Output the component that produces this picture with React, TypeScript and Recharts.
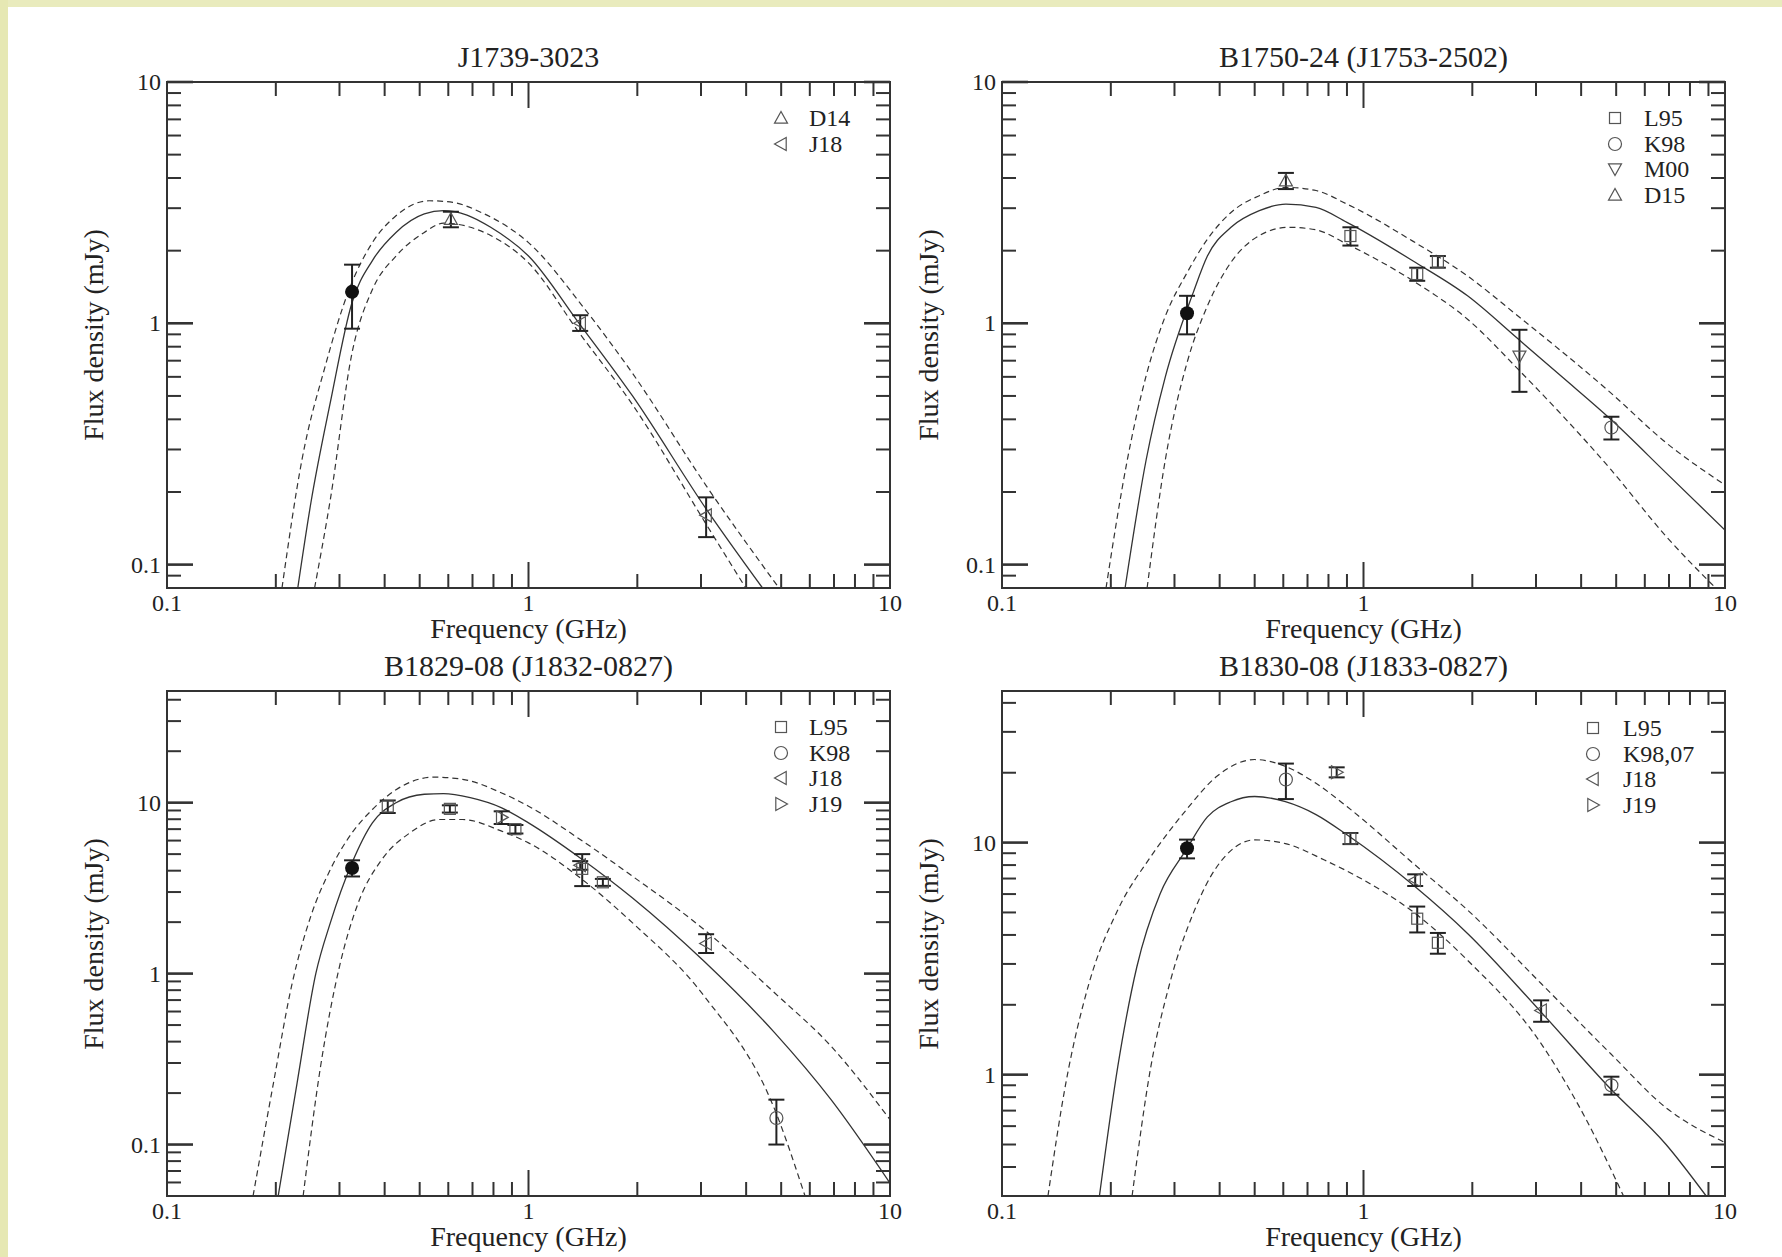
import React from 'react';
import { ComposedChart, Line, Scatter, XAxis, YAxis, ErrorBar, ReferenceArea } from 'recharts';

const FONT = '"Liberation Serif", "Times New Roman", serif';
const INK = '#222';
const CURVE = '#333';

// axis ticks (log axes, minor ticks at 2..9 of each decade)
const xTicks = [0.1, 0.2, 0.3, 0.4, 0.5, 0.6, 0.7, 0.8, 0.9, 1, 2, 3, 4, 5, 6, 7, 8, 9, 10];
const xTickLabels = [0.1, 1, 10];
const yTicksTop = [0.09, 0.1, 0.2, 0.3, 0.4, 0.5, 0.6, 0.7, 0.8, 0.9, 1, 2, 3, 4, 5, 6, 7, 8, 9, 10];
const yTicksBL = [0.06, 0.07, 0.08, 0.09, 0.1, 0.2, 0.3, 0.4, 0.5, 0.6, 0.7, 0.8, 0.9, 1, 2, 3, 4, 5, 6, 7, 8, 9, 10, 20, 30, 40];
const yTicksBR = [0.4, 0.5, 0.6, 0.7, 0.8, 0.9, 1, 2, 3, 4, 5, 6, 7, 8, 9, 10, 20, 30, 40];
const yTickLabelsTop = [0.1, 1, 10];
const yTickLabelsBR = [1, 10];

// ---- J1739-3023 ----
const tlFit = [
  { f: 0.23, s: 0.08 }, { f: 0.25, s: 0.18 }, { f: 0.283, s: 0.47 }, { f: 0.325, s: 1.22 },
  { f: 0.37, s: 1.82 }, { f: 0.43, s: 2.38 }, { f: 0.515, s: 2.84 }, { f: 0.582, s: 2.93 },
  { f: 0.676, s: 2.81 }, { f: 0.786, s: 2.5 }, { f: 1.0, s: 1.9 }, { f: 1.38, s: 1.0 },
  { f: 1.94, s: 0.5 }, { f: 3.11, s: 0.169 }, { f: 4.44, s: 0.08 },
];
const tlUpper = [
  { f: 0.208, s: 0.08 }, { f: 0.236, s: 0.27 }, { f: 0.274, s: 0.665 }, { f: 0.319, s: 1.38 },
  { f: 0.37, s: 2.16 }, { f: 0.43, s: 2.79 }, { f: 0.531, s: 3.22 }, { f: 0.618, s: 3.17 },
  { f: 0.74, s: 2.88 }, { f: 1.0, s: 2.16 }, { f: 1.435, s: 1.14 }, { f: 1.94, s: 0.62 },
  { f: 3.11, s: 0.211 }, { f: 4.93, s: 0.08 },
];
const tlLower = [
  { f: 0.256, s: 0.08 }, { f: 0.283, s: 0.186 }, { f: 0.325, s: 0.755 }, { f: 0.37, s: 1.38 },
  { f: 0.43, s: 1.9 }, { f: 0.515, s: 2.38 }, { f: 0.582, s: 2.6 }, { f: 0.786, s: 2.31 },
  { f: 1.0, s: 1.78 }, { f: 1.38, s: 0.915 }, { f: 1.94, s: 0.46 }, { f: 3.11, s: 0.146 },
  { f: 3.99, s: 0.08 },
];
const tlOurs = [{ f: 0.325, s: 1.35, e: [0.4, 0.4] }];
const tlD14 = [{ f: 0.61, s: 2.7, e: [0.2, 0.2] }];
const tlJ18 = [{ f: 1.39, s: 1.0, e: [0.07, 0.08] }, { f: 3.1, s: 0.16, e: [0.03, 0.03] }];

// ---- B1750-24 ----
const trFit = [
  { f: 0.219, s: 0.08 }, { f: 0.2505, s: 0.272 }, { f: 0.283, s: 0.6 }, { f: 0.338, s: 1.34 },
  { f: 0.37, s: 1.9 }, { f: 0.43, s: 2.5 }, { f: 0.515, s: 2.93 }, { f: 0.61, s: 3.12 },
  { f: 0.739, s: 3.02 }, { f: 0.9, s: 2.62 }, { f: 1.39, s: 1.79 }, { f: 1.94, s: 1.3 },
  { f: 2.68, s: 0.86 }, { f: 3.54, s: 0.6 }, { f: 4.83, s: 0.4 }, { f: 6.87, s: 0.24 },
  { f: 10, s: 0.139 },
];
const trUpper = [
  { f: 0.194, s: 0.08 }, { f: 0.222, s: 0.27 }, { f: 0.25, s: 0.6 }, { f: 0.283, s: 1.07 },
  { f: 0.325, s: 1.62 }, { f: 0.37, s: 2.23 }, { f: 0.43, s: 2.88 }, { f: 0.515, s: 3.38 },
  { f: 0.61, s: 3.66 }, { f: 0.739, s: 3.55 }, { f: 0.9, s: 3.12 }, { f: 1.39, s: 2.16 },
  { f: 1.94, s: 1.57 }, { f: 2.68, s: 1.07 }, { f: 4.83, s: 0.515 }, { f: 6.87, s: 0.32 },
  { f: 10, s: 0.214 },
];
const trLower = [
  { f: 0.252, s: 0.08 }, { f: 0.283, s: 0.272 }, { f: 0.325, s: 0.687 }, { f: 0.37, s: 1.18 },
  { f: 0.43, s: 1.79 }, { f: 0.515, s: 2.31 }, { f: 0.62, s: 2.5 }, { f: 0.739, s: 2.44 },
  { f: 0.9, s: 2.13 }, { f: 1.39, s: 1.48 }, { f: 1.94, s: 1.04 }, { f: 2.68, s: 0.644 },
  { f: 4.83, s: 0.248 }, { f: 6.87, s: 0.131 }, { f: 9.42, s: 0.08 },
];
const trOurs = [{ f: 0.325, s: 1.1, e: [0.2, 0.2] }];
const trL95 = [
  { f: 0.92, s: 2.3, e: [0.2, 0.2] },
  { f: 1.408, s: 1.6, e: [0.1, 0.1] },
  { f: 1.606, s: 1.8, e: [0.1, 0.1] },
];
const trK98 = [{ f: 4.85, s: 0.37, e: [0.04, 0.04] }];
const trM00 = [{ f: 2.7, s: 0.73, e: [0.21, 0.21] }];
const trD15 = [{ f: 0.61, s: 3.9, e: [0.3, 0.3] }];

// ---- B1829-08 ----
const blFit = [
  { f: 0.203, s: 0.05 }, { f: 0.229, s: 0.229 }, { f: 0.258, s: 1.0 }, { f: 0.283, s: 1.98 },
  { f: 0.325, s: 4.45 }, { f: 0.37, s: 7.62 }, { f: 0.43, s: 9.98 }, { f: 0.515, s: 11.2 },
  { f: 0.582, s: 11.3 }, { f: 0.69, s: 10.7 }, { f: 0.843, s: 9.33 }, { f: 1.0, s: 7.62 },
  { f: 1.39, s: 4.75 }, { f: 1.94, s: 2.77 }, { f: 3.06, s: 1.18 }, { f: 4.8, s: 0.45 },
  { f: 6.87, s: 0.183 }, { f: 10, s: 0.0595 },
];
const blUpper = [
  { f: 0.173, s: 0.05 }, { f: 0.197, s: 0.229 }, { f: 0.222, s: 0.88 }, { f: 0.25, s: 2.17 },
  { f: 0.283, s: 4.06 }, { f: 0.325, s: 6.66 }, { f: 0.37, s: 9.12 }, { f: 0.43, s: 11.9 },
  { f: 0.547, s: 14.1 }, { f: 0.657, s: 13.7 }, { f: 0.843, s: 11.4 }, { f: 1.0, s: 9.54 },
  { f: 1.39, s: 6.09 }, { f: 1.94, s: 3.71 }, { f: 3.06, s: 1.81 }, { f: 4.8, s: 0.77 },
  { f: 6.87, s: 0.376 }, { f: 10, s: 0.14 },
];
const blLower = [
  { f: 0.238, s: 0.05 }, { f: 0.266, s: 0.287 }, { f: 0.3, s: 1.1 }, { f: 0.338, s: 2.59 },
  { f: 0.393, s: 4.65 }, { f: 0.47, s: 6.66 }, { f: 0.565, s: 7.97 }, { f: 0.657, s: 7.97 },
  { f: 0.843, s: 6.81 }, { f: 1.0, s: 5.82 }, { f: 1.39, s: 3.63 }, { f: 1.94, s: 1.98 },
  { f: 3.06, s: 0.74 }, { f: 4.8, s: 0.16 }, { f: 5.82, s: 0.05 },
];
const blOurs = [{ f: 0.325, s: 4.15, e: [0.45, 0.45] }];
const blL95 = [
  { f: 0.408, s: 9.5, e: [0.8, 0.8] },
  { f: 0.606, s: 9.2, e: [0.45, 0.45] },
  { f: 0.92, s: 7.0, e: [0.4, 0.4] },
  { f: 1.408, s: 4.1, e: [0.85, 0.9] },
  { f: 1.606, s: 3.42, e: [0.16, 0.16] },
];
const blK98 = [{ f: 4.85, s: 0.143, e: [0.043, 0.04] }];
const blJ18 = [{ f: 1.39, s: 4.3, e: [0.25, 0.25] }, { f: 3.1, s: 1.5, e: [0.18, 0.2] }];
const blJ19 = [{ f: 0.843, s: 8.2, e: [0.7, 0.7] }];

// ---- B1830-08 ----
const brFit = [
  { f: 0.186, s: 0.3 }, { f: 0.209, s: 1.08 }, { f: 0.236, s: 2.91 }, { f: 0.274, s: 6.04 },
  { f: 0.323, s: 9.3 }, { f: 0.37, s: 12.9 }, { f: 0.43, s: 15.0 }, { f: 0.5, s: 15.8 },
  { f: 0.608, s: 15.0 }, { f: 0.739, s: 13.2 }, { f: 0.9, s: 10.8 }, { f: 1.39, s: 6.45 },
  { f: 1.94, s: 4.06 }, { f: 3.1, s: 1.86 }, { f: 4.83, s: 0.867 }, { f: 6.87, s: 0.5 },
  { f: 8.87, s: 0.3 },
];
const brUpper = [
  { f: 0.134, s: 0.3 }, { f: 0.15, s: 0.91 }, { f: 0.174, s: 2.47 }, { f: 0.209, s: 5.12 },
  { f: 0.258, s: 8.7 }, { f: 0.323, s: 13.8 }, { f: 0.393, s: 19.3 }, { f: 0.5, s: 22.8 },
  { f: 0.608, s: 21.3 }, { f: 0.739, s: 18.0 }, { f: 0.9, s: 14.3 }, { f: 1.39, s: 8.0 },
  { f: 1.94, s: 5.12 }, { f: 3.1, s: 2.47 }, { f: 4.83, s: 1.23 }, { f: 6.87, s: 0.72 },
  { f: 10, s: 0.51 },
];
const brLower = [
  { f: 0.229, s: 0.3 }, { f: 0.258, s: 1.08 }, { f: 0.291, s: 2.47 }, { f: 0.338, s: 4.95 },
  { f: 0.393, s: 7.87 }, { f: 0.5, s: 10.27 }, { f: 0.608, s: 9.9 }, { f: 0.78, s: 8.41 },
  { f: 1.0, s: 6.9 }, { f: 1.39, s: 4.95 }, { f: 1.94, s: 3.11 }, { f: 3.1, s: 1.36 },
  { f: 4.11, s: 0.65 }, { f: 5.24, s: 0.3 },
];
const brOurs = [{ f: 0.325, s: 9.45, e: [0.9, 0.85] }];
const brL95 = [
  { f: 0.92, s: 10.4, e: [0.55, 0.6] },
  { f: 1.408, s: 4.7, e: [0.6, 0.6] },
  { f: 1.606, s: 3.7, e: [0.38, 0.38] },
];
const brK98 = [{ f: 0.61, s: 18.7, e: [3.3, 3.2] }, { f: 4.85, s: 0.9, e: [0.08, 0.08] }];
const brJ18 = [{ f: 1.39, s: 6.9, e: [0.4, 0.4] }, { f: 3.1, s: 1.89, e: [0.2, 0.2] }];
const brJ19 = [{ f: 0.843, s: 20.1, e: [1, 1] }];

type Kind = 'filled' | 'square' | 'circle' | 'up' | 'down' | 'left' | 'right';

const PLOT_W = 723;
const Y_AXIS_W = 60;
const X_AXIS_H = 40;
const M_TOP = 20;
const M_RIGHT = 20;
const LEGEND_GAP = 25.5;

const panels = [
  {
    title: 'J1739-3023',
    plotLeft: 167, plotTop: 82, plotH: 506,
    yDomain: [0.08, 10], yTicks: yTicksTop, yLabels: yTickLabelsTop,
    fit: tlFit, upper: tlUpper, lower: tlLower,
    groups: [
      { kind: 'filled', data: tlOurs },
      { kind: 'up', data: tlD14 },
      { kind: 'left', data: tlJ18 },
    ],
    legend: [{ kind: 'up', name: 'D14' }, { kind: 'left', name: 'J18' }],
    legendSymX: 781, legendTextX: 809, legendY: 118,
  },
  {
    title: 'B1750-24 (J1753-2502)',
    plotLeft: 1002, plotTop: 82, plotH: 506,
    yDomain: [0.08, 10], yTicks: yTicksTop, yLabels: yTickLabelsTop,
    fit: trFit, upper: trUpper, lower: trLower,
    groups: [
      { kind: 'filled', data: trOurs },
      { kind: 'square', data: trL95 },
      { kind: 'circle', data: trK98 },
      { kind: 'down', data: trM00 },
      { kind: 'up', data: trD15 },
    ],
    legend: [
      { kind: 'square', name: 'L95' }, { kind: 'circle', name: 'K98' },
      { kind: 'down', name: 'M00' }, { kind: 'up', name: 'D15' },
    ],
    legendSymX: 1615, legendTextX: 1644, legendY: 118,
  },
  {
    title: 'B1829-08 (J1832-0827)',
    plotLeft: 167, plotTop: 691, plotH: 505,
    yDomain: [0.05, 45], yTicks: yTicksBL, yLabels: yTickLabelsTop,
    fit: blFit, upper: blUpper, lower: blLower,
    groups: [
      { kind: 'filled', data: blOurs },
      { kind: 'square', data: blL95 },
      { kind: 'circle', data: blK98 },
      { kind: 'left', data: blJ18 },
      { kind: 'right', data: blJ19 },
    ],
    legend: [
      { kind: 'square', name: 'L95' }, { kind: 'circle', name: 'K98' },
      { kind: 'left', name: 'J18' }, { kind: 'right', name: 'J19' },
    ],
    legendSymX: 781, legendTextX: 809, legendY: 727,
  },
  {
    title: 'B1830-08 (J1833-0827)',
    plotLeft: 1002, plotTop: 691, plotH: 505,
    yDomain: [0.3, 45], yTicks: yTicksBR, yLabels: yTickLabelsBR,
    fit: brFit, upper: brUpper, lower: brLower,
    groups: [
      { kind: 'filled', data: brOurs },
      { kind: 'square', data: brL95 },
      { kind: 'circle', data: brK98 },
      { kind: 'left', data: brJ18 },
      { kind: 'right', data: brJ19 },
    ],
    legend: [
      { kind: 'square', name: 'L95' }, { kind: 'circle', name: 'K98,07' },
      { kind: 'left', name: 'J18' }, { kind: 'right', name: 'J19' },
    ],
    legendSymX: 1593, legendTextX: 1623, legendY: 728,
  },
];

function Marker({ kind, cx, cy }: { kind: Kind; cx: number; cy: number }) {
  const r = 6.5;
  const st = { fill: 'none', stroke: '#555', strokeWidth: 1.2 };
  if (kind === 'filled') return <circle cx={cx} cy={cy} r={7} fill="#111" />;
  if (kind === 'circle') return <circle cx={cx} cy={cy} r={r} {...st} />;
  if (kind === 'square') return <rect x={cx - 5.5} y={cy - 5.5} width={11} height={11} {...st} />;
  const pts = {
    up: [[0, -r], [-r, r * 0.8], [r, r * 0.8]],
    down: [[0, r], [-r, -r * 0.8], [r, -r * 0.8]],
    left: [[-r, 0], [r * 0.8, -r], [r * 0.8, r]],
    right: [[r, 0], [-r * 0.8, -r], [-r * 0.8, r]],
  }[kind];
  return <polygon points={pts.map(([dx, dy]) => `${cx + dx},${cy + dy}`).join(' ')} {...st} />;
}

const fmt = (v: number) => String(v);

// ticks point inwards on all four sides, labels sit outside
const xTick = (plotH: number) => (props: any) => {
  const { x, y, payload } = props;
  const v = payload.value;
  const len = v === 1 ? 26 : 14;
  return (
    <g>
      <line x1={x} y1={y} x2={x} y2={y - len} stroke="#333" strokeWidth={2} />
      <line x1={x} y1={y - plotH} x2={x} y2={y - plotH + len} stroke="#333" strokeWidth={2} />
      {xTickLabels.includes(v) && (
        <text x={x} y={y + 15} textAnchor="middle" dominantBaseline="central"
          fontFamily={FONT} fontSize={24} fill={INK}>{fmt(v)}</text>
      )}
    </g>
  );
};

const yTick = (labels: number[]) => (props: any) => {
  const { x, y, payload } = props;
  const v = payload.value;
  const major = [0.1, 1, 10].includes(v);
  const len = major ? 26 : 14;
  const w = major ? 2.6 : 2;
  return (
    <g>
      <line x1={x} y1={y} x2={x + len} y2={y} stroke="#333" strokeWidth={w} />
      <line x1={x + PLOT_W} y1={y} x2={x + PLOT_W - len} y2={y} stroke="#333" strokeWidth={w} />
      {labels.includes(v) && (
        <text x={x - 6} y={y} textAnchor="end" dominantBaseline="central"
          fontFamily={FONT} fontSize={24} fill={INK}>{fmt(v)}</text>
      )}
    </g>
  );
};

const textBase: React.CSSProperties = {
  position: 'absolute',
  fontFamily: FONT,
  color: INK,
  whiteSpace: 'nowrap',
  lineHeight: 1,
};

function Panel({ p }: { p: (typeof panels)[number] }) {
  const chartW = Y_AXIS_W + PLOT_W + M_RIGHT;
  const chartH = M_TOP + p.plotH + X_AXIS_H;
  const cx = p.plotLeft + PLOT_W / 2;
  const cy = p.plotTop + p.plotH / 2;
  return (
    <>
      <div style={{ position: 'absolute', left: p.plotLeft - Y_AXIS_W, top: p.plotTop - M_TOP }}>
        <ComposedChart width={chartW} height={chartH}
          margin={{ top: M_TOP, right: M_RIGHT, bottom: 0, left: 0 }}>
          <XAxis dataKey="f" type="number" scale="log" domain={[0.1, 10]} allowDataOverflow
            ticks={xTicks} interval={0} height={X_AXIS_H} tickSize={0} tickMargin={0}
            axisLine={false} tickLine={false} tick={xTick(p.plotH)} />
          <YAxis dataKey="s" type="number" scale="log" domain={p.yDomain} allowDataOverflow
            ticks={p.yTicks} interval={0} width={Y_AXIS_W} tickSize={0} tickMargin={0}
            axisLine={false} tickLine={false} tick={yTick(p.yLabels)} />
          <Line data={p.upper} dataKey="s" type="monotone" dot={false} stroke={CURVE}
            strokeWidth={1.2} strokeDasharray="6 4" isAnimationActive={false} />
          <Line data={p.lower} dataKey="s" type="monotone" dot={false} stroke={CURVE}
            strokeWidth={1.2} strokeDasharray="6 4" isAnimationActive={false} />
          <Line data={p.fit} dataKey="s" type="monotone" dot={false} stroke={CURVE}
            strokeWidth={1.3} isAnimationActive={false} />
          {p.groups.map((g, i) => (
            <Scatter key={i} data={g.data} dataKey="s" isAnimationActive={false}
              shape={(sp: any) => <Marker kind={g.kind as Kind} cx={sp.cx} cy={sp.cy} />}>
              <ErrorBar dataKey="e" direction="y" width={8} stroke={INK} strokeWidth={2} />
            </Scatter>
          ))}
          <ReferenceArea x1={0.1} x2={10} y1={p.yDomain[0]} y2={p.yDomain[1]} fill="none"
            stroke="#333" strokeWidth={2} ifOverflow="visible" />
        </ComposedChart>
      </div>
      <div style={{ ...textBase, left: cx, top: p.plotTop - 25, fontSize: 30, transform: 'translate(-50%,-50%)' }}>
        {p.title}
      </div>
      <div style={{ ...textBase, left: cx, top: p.plotTop + p.plotH + 41, fontSize: 28, transform: 'translate(-50%,-50%)' }}>
        Frequency (GHz)
      </div>
      <div style={{ ...textBase, left: p.plotLeft - 73, top: cy, fontSize: 28, transform: 'translate(-50%,-50%) rotate(-90deg)' }}>
        Flux density (mJy)
      </div>
      {p.legend.map((item, i) => {
        const ly = p.legendY + i * LEGEND_GAP;
        return (
          <React.Fragment key={item.name}>
            <svg width={20} height={20} style={{ position: 'absolute', left: p.legendSymX - 10, top: ly - 10 }}>
              <Marker kind={item.kind as Kind} cx={10} cy={10} />
            </svg>
            <div style={{ ...textBase, left: p.legendTextX, top: ly, fontSize: 24, transform: 'translateY(-50%)' }}>
              {item.name}
            </div>
          </React.Fragment>
        );
      })}
    </>
  );
}

export default function App() {
  return (
    <div style={{ position: 'absolute', left: 0, top: 0, width: 1782, height: 1257, background: '#fff', overflow: 'hidden' }}>
      <div style={{ position: 'absolute', left: 0, top: 0, width: 1782, height: 7, background: '#e9ebbd' }} />
      <div style={{ position: 'absolute', left: 0, top: 0, width: 8, height: 1257, background: '#e6e8b3' }} />
      {panels.map((p) => (
        <Panel key={p.title} p={p} />
      ))}
    </div>
  );
}
